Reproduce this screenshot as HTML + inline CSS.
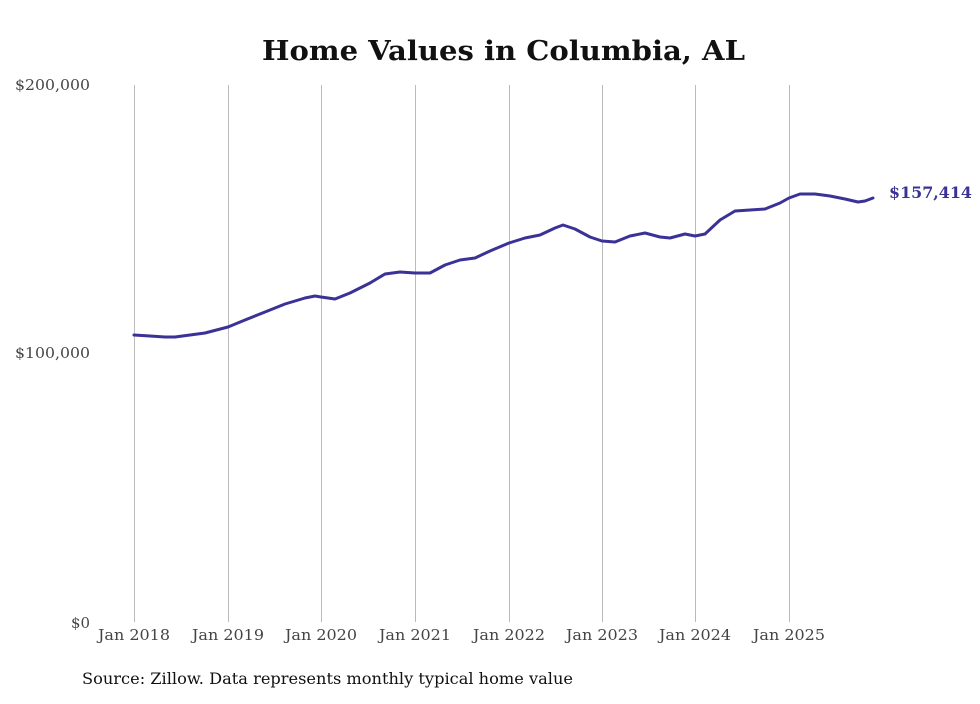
<!DOCTYPE html>
<html><head><meta charset="utf-8"><style>
body{margin:0;background:#fff;}
</style></head><body>
<svg width="980" height="699" xmlns="http://www.w3.org/2000/svg" font-family="'DejaVu Serif','Liberation Serif',serif">
<rect width="980" height="699" fill="#fff"/>
<text x="262" y="60" textLength="483" lengthAdjust="spacingAndGlyphs" font-size="27" font-weight="bold" fill="#111">Home Values in Columbia, AL</text>
<g stroke="#bbb" stroke-width="1">
<line x1="134.5" y1="85" x2="134.5" y2="622"/>
<line x1="228.5" y1="85" x2="228.5" y2="622"/>
<line x1="321.5" y1="85" x2="321.5" y2="622"/>
<line x1="415.5" y1="85" x2="415.5" y2="622"/>
<line x1="509.5" y1="85" x2="509.5" y2="622"/>
<line x1="602.5" y1="85" x2="602.5" y2="622"/>
<line x1="695.5" y1="85" x2="695.5" y2="622"/>
<line x1="789.5" y1="85" x2="789.5" y2="622"/>
</g>
<g font-size="15" fill="#444">
<text x="15" y="90" textLength="75" lengthAdjust="spacingAndGlyphs">$200,000</text>
<text x="15" y="358" textLength="75" lengthAdjust="spacingAndGlyphs">$100,000</text>
<text x="71" y="628" textLength="19" lengthAdjust="spacingAndGlyphs">$0</text>
</g>
<g font-size="15" fill="#444">
<text x="98" y="640" textLength="72" lengthAdjust="spacingAndGlyphs">Jan 2018</text>
<text x="192" y="640" textLength="72" lengthAdjust="spacingAndGlyphs">Jan 2019</text>
<text x="285" y="640" textLength="72" lengthAdjust="spacingAndGlyphs">Jan 2020</text>
<text x="379" y="640" textLength="72" lengthAdjust="spacingAndGlyphs">Jan 2021</text>
<text x="473" y="640" textLength="72" lengthAdjust="spacingAndGlyphs">Jan 2022</text>
<text x="566" y="640" textLength="72" lengthAdjust="spacingAndGlyphs">Jan 2023</text>
<text x="659" y="640" textLength="72" lengthAdjust="spacingAndGlyphs">Jan 2024</text>
<text x="753" y="640" textLength="72" lengthAdjust="spacingAndGlyphs">Jan 2025</text>
</g>
<polyline fill="none" stroke="#3a3296" stroke-width="3" stroke-linejoin="round" stroke-linecap="round" points="134,335 150,336 165,337 175,337 190,335 205,333 228,327 245,320 265,312 285,304 305,298 315,296 321,297 335,299 350,293 370,283 385,274 400,272 415,273 430,273 445,265 460,260 475,258 490,251 509,243 525,238 540,235 555,228 563,225 575,229 590,237 602,241 615,242 630,236 645,233 660,237 670,238 685,234 695,236 705,234 720,220 735,211 750,210 765,209 780,203 789,198 800,194 815,194 830,196 845,199 858,202 865,201 873,198"/>
<text x="889" y="198" textLength="83" lengthAdjust="spacingAndGlyphs" font-size="16" font-weight="bold" fill="#3a3296">$157,414</text>
<text x="82" y="684" textLength="491" lengthAdjust="spacingAndGlyphs" font-size="16" fill="#111">Source: Zillow. Data represents monthly typical home value</text>
</svg>
</body></html>
